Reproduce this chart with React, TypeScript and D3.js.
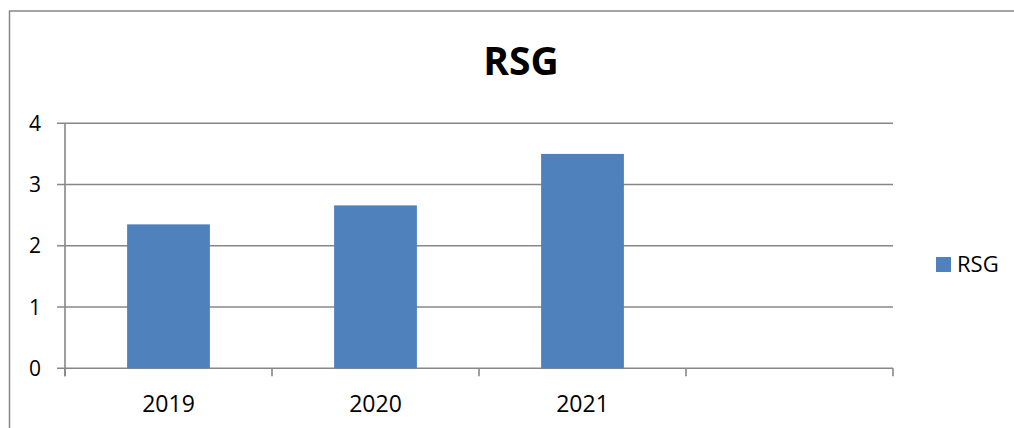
import React from "react";
import * as d3 from "d3";

const categories = ["2019", "2020", "2021", ""];
const values = [2.35, 2.66, 3.5, null];
const yTicks = [0, 1, 2, 3, 4];
const seriesName = "RSG";
const title = "RSG";

const W = 1014;
const H = 428;
const plot = { left: 65, right: 893, top: 123.3, bottom: 368.3 };
const font = "'Open Sans', sans-serif";
const grid = "#878787";
const barColor = "#4f81bd";

export default function App() {
  const x = d3.scaleBand<string>().domain(categories.map((c, i) => c + "_" + i)).range([plot.left, plot.right]);
  const y = d3.scaleLinear().domain([0, 4]).range([plot.bottom, plot.top]);
  const bw = x.bandwidth() / 2.5;
  const keys = x.domain();
  const tickXs = keys.map((k) => x(k)!).concat([plot.right]);

  return (
    <svg width={W} height={H} style={{ position: "absolute", left: 0, top: 0, background: "#fff" }}>
      <rect x={9.5} y={11} width={1030} height={460} fill="#fff" stroke={grid} strokeWidth={1.5} />
      <text x={521} y={74.5} textAnchor="middle" fontFamily={font} fontWeight="bold" fontSize={39}>
        {title}
      </text>
      {yTicks.map((t) => (
        <g key={t}>
          <line x1={plot.left - 8} x2={plot.right} y1={y(t)} y2={y(t)} stroke={grid} strokeWidth={1.6} />
          <text x={41} y={y(t) + 7.5} textAnchor="end" fontFamily={font} fontSize={21} fill="#000">
            {t}
          </text>
        </g>
      ))}
      <line x1={plot.left} x2={plot.left} y1={plot.top} y2={plot.bottom + 8} stroke={grid} strokeWidth={1.6} />
      {tickXs.map((tx, i) => (
        <line key={i} x1={tx} x2={tx} y1={plot.bottom} y2={plot.bottom + 8} stroke={grid} strokeWidth={1.6} />
      ))}
      {keys.map((k, i) =>
        values[i] == null ? null : (
          <rect
            key={k}
            x={x(k)! + x.bandwidth() / 2 - bw / 2}
            y={y(values[i] as number)}
            width={bw}
            height={plot.bottom - y(values[i] as number)}
            fill={barColor}
          />
        )
      )}
      {keys.map((k, i) => (
        <text key={k} x={x(k)! + x.bandwidth() / 2} y={411.7} textAnchor="middle" fontFamily={font} fontSize={23} fill="#000">
          {categories[i]}
        </text>
      ))}
      <rect x={936} y={257} width={15} height={15} fill={barColor} />
      <text x={957} y={272.3} fontFamily={font} fontSize={22} fill="#000">
        {seriesName}
      </text>
    </svg>
  );
}
